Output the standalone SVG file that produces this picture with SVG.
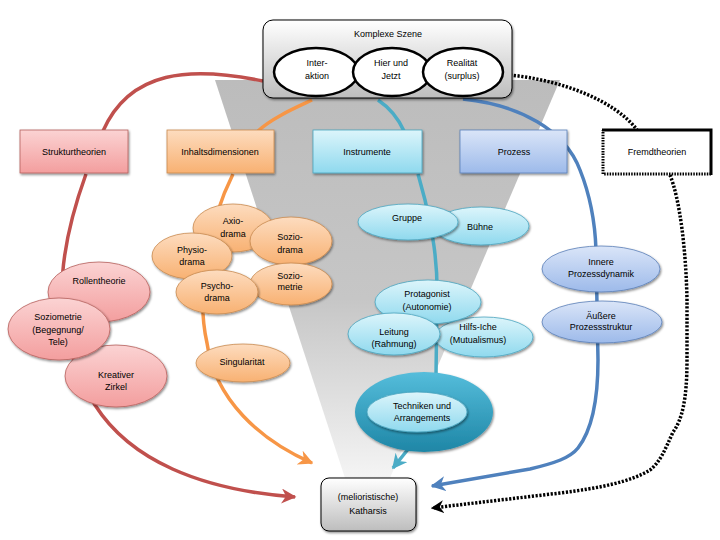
<svg xmlns="http://www.w3.org/2000/svg" width="720" height="540" viewBox="0 0 720 540">
<defs>
<linearGradient id="gFunnel" x1="0" y1="0" x2="0" y2="1"><stop offset="0" stop-color="#bcbcbc"/><stop offset="0.55" stop-color="#c6c6c6"/><stop offset="1" stop-color="#f4f4f4"/></linearGradient>
<linearGradient id="gGray" x1="0" y1="0" x2="0" y2="1"><stop offset="0" stop-color="#ffffff"/><stop offset="1" stop-color="#bdbdbd"/></linearGradient>
<linearGradient id="gPink" x1="0" y1="0" x2="0" y2="1"><stop offset="0" stop-color="#fbd3d3"/><stop offset="1" stop-color="#f39e9e"/></linearGradient>
<linearGradient id="gOrange" x1="0" y1="0" x2="0" y2="1"><stop offset="0" stop-color="#fddcbf"/><stop offset="1" stop-color="#f8b172"/></linearGradient>
<linearGradient id="gCyan" x1="0" y1="0" x2="0" y2="1"><stop offset="0" stop-color="#dcf5fb"/><stop offset="1" stop-color="#8fd9ee"/></linearGradient>
<linearGradient id="gBlue" x1="0" y1="0" x2="0" y2="1"><stop offset="0" stop-color="#dae5f8"/><stop offset="1" stop-color="#9dbaea"/></linearGradient>
<linearGradient id="gRing" x1="0" y1="0" x2="0" y2="1"><stop offset="0" stop-color="#55bddb"/><stop offset="1" stop-color="#1e86a6"/></linearGradient>
<filter id="sh" x="-20%" y="-20%" width="140%" height="150%"><feDropShadow dx="1" dy="1.5" stdDeviation="0.8" flood-color="#000" flood-opacity="0.45"/></filter>
<marker id="aRed" viewBox="0 0 10 10" refX="9" refY="5" markerWidth="15" markerHeight="15" markerUnits="userSpaceOnUse" orient="auto"><path d="M0,0 L10,5 L0,10 L3,5 z" fill="#c0504d"/></marker>
<marker id="aOrange" viewBox="0 0 10 10" refX="9" refY="5" markerWidth="15" markerHeight="15" markerUnits="userSpaceOnUse" orient="auto"><path d="M0,0 L10,5 L0,10 L3,5 z" fill="#f79646"/></marker>
<marker id="aTeal" viewBox="0 0 10 10" refX="9" refY="5" markerWidth="15" markerHeight="15" markerUnits="userSpaceOnUse" orient="auto"><path d="M0,0 L10,5 L0,10 L3,5 z" fill="#4bacc6"/></marker>
<marker id="aBlue" viewBox="0 0 10 10" refX="9" refY="5" markerWidth="15" markerHeight="15" markerUnits="userSpaceOnUse" orient="auto"><path d="M0,0 L10,5 L0,10 L3,5 z" fill="#4f81bd"/></marker>
<marker id="aBlack" viewBox="0 0 10 10" refX="9" refY="5" markerWidth="13" markerHeight="13" markerUnits="userSpaceOnUse" orient="auto"><path d="M0,0 L10,5 L0,10 L3,5 z" fill="#000"/></marker>
</defs>
<style>
text{font-family:"Liberation Sans",Arial,sans-serif;font-size:9px;fill:#000;text-anchor:middle}
.c{fill:none;stroke-width:3.5;stroke-linecap:butt}
.red{stroke:#c0504d}.org{stroke:#f79646}.teal{stroke:#4bacc6}.blue{stroke:#4f81bd}
.dot{stroke:#000;stroke-dasharray:2.2 1.6}
.pk{fill:url(#gPink);stroke:#b5605c;stroke-width:0.8;filter:url(#sh)}
.or{fill:url(#gOrange);stroke:#c98a4f;stroke-width:0.8;filter:url(#sh)}
.cy{fill:url(#gCyan);stroke:#4aa5bf;stroke-width:0.8;filter:url(#sh)}
.bl{fill:url(#gBlue);stroke:#5a7fb8;stroke-width:0.8;filter:url(#sh)}
.wh{fill:#fff;stroke:#000;stroke-width:2.5}
</style>
<rect width="720" height="540" fill="#fff"/>
<polygon id="funnel" points="215,80 560,80 390,478 345,478" fill="url(#gFunnel)"/>

<g id="connectors">
<path class="c red" d="M263,81 C190,66 130,70 103,131"/>
<path class="c red" d="M86,174 C55,260 50,330 95,405 C130,460 200,490 295,497" marker-end="url(#aRed)"/>
<path class="c org" d="M312,100 C295,108 272,118 258,131"/>
<path class="c org" d="M233,174 C210,220 195,290 207,343 C215,400 260,440 312,463" marker-end="url(#aOrange)"/>
<path class="c teal" d="M378,100 C390,108 398,118 404,131"/>
<path class="c teal" d="M418,174 L425,200 C432,230 438,260 437,300 L436,375"/>
<path class="c teal" d="M409,448 L393,468" marker-end="url(#aTeal)"/>
<path class="c blue" d="M463,99 C520,105 565,130 580,170 C590,195 595,220 596,250 L598,360 C598,400 592,430 578,448 C570,458 555,463 530,469 L432,486" marker-end="url(#aBlue)"/>
<path class="c dot" d="M510,75 C560,80 615,100 637,130"/>
<path class="c dot" d="M670,175 C680,200 686,250 687,300 L687,360 C687,400 682,420 673,432 C665,450 660,462 650,470 C630,482 600,488 560,493 L432,508" marker-end="url(#aBlack)"/>
</g>

<g id="komplexe-szene">
<rect x="263" y="20" width="249" height="78" rx="10" fill="url(#gGray)" stroke="#000" stroke-width="1" filter="url(#sh)"/>
<text x="388" y="37">Komplexe Szene</text>
</g>
<g id="interaktion"><ellipse cx="316" cy="72" rx="42" ry="24" class="wh"/><text x="317" y="66">Inter-</text><text x="317" y="79">aktion</text></g>
<g id="hier-und-jetzt"><ellipse cx="392" cy="72" rx="39" ry="24" class="wh"/><text x="391" y="66">Hier und</text><text x="391" y="79">Jetzt</text></g>
<g id="realitaet"><ellipse cx="463" cy="72" rx="40" ry="24" class="wh"/><text x="462" y="66">Realität</text><text x="462" y="79">(surplus)</text></g>

<g id="strukturtheorien"><rect x="20" y="130" width="108" height="43" fill="url(#gPink)" stroke="#b5605c" stroke-width="0.8" filter="url(#sh)"/><text x="74" y="155">Strukturtheorien</text></g>
<g id="inhaltsdimensionen"><rect x="167" y="130" width="107" height="43" fill="url(#gOrange)" stroke="#c98a4f" stroke-width="0.8" filter="url(#sh)"/><text x="220" y="155">Inhaltsdimensionen</text></g>
<g id="instrumente"><rect x="313" y="130" width="109" height="43" fill="url(#gCyan)" stroke="#4aa5bf" stroke-width="0.8" filter="url(#sh)"/><text x="367" y="155">Instrumente</text></g>
<g id="prozess"><rect x="460" y="130" width="107" height="43" fill="url(#gBlue)" stroke="#5a7fb8" stroke-width="0.8" filter="url(#sh)"/><text x="514" y="155">Prozess</text></g>
<g id="fremdtheorien">
<rect x="603" y="130" width="108" height="44" fill="#fff"/>
<path d="M711,174 L603,174 L603,130" fill="none" stroke="#000" stroke-width="3" stroke-dasharray="1.5 1.2"/>
<path d="M602,130 L711,130 L711,175" fill="none" stroke="#000" stroke-width="3"/>
<text x="657" y="155">Fremdtheorien</text>
</g>

<g id="rollentheorie"><ellipse cx="99" cy="292" rx="51" ry="30" class="pk"/><text x="99" y="284">Rollentheorie</text></g>
<g id="kreativer-zirkel"><ellipse cx="116" cy="376" rx="51" ry="31" class="pk"/><text x="116" y="378">Kreativer</text><text x="116" y="390">Zirkel</text></g>
<g id="soziometrie-begegnung"><ellipse cx="59" cy="329" rx="51" ry="31" class="pk"/><text x="58" y="320">Soziometrie</text><text x="58" y="333">(Begegnung/</text><text x="58" y="345">Tele)</text></g>

<g id="axiodrama"><ellipse cx="233" cy="228" rx="40" ry="24" class="or"/><text x="233" y="224">Axio-</text><text x="233" y="237">drama</text></g>
<g id="soziodrama"><ellipse cx="291" cy="241" rx="41" ry="24" class="or"/><text x="290" y="240">Sozio-</text><text x="290" y="253">drama</text></g>
<g id="physiodrama"><ellipse cx="192" cy="256" rx="40" ry="23" class="or"/><text x="192" y="253">Physio-</text><text x="192" y="265">drama</text></g>
<g id="soziometrie"><ellipse cx="291" cy="284" rx="41" ry="21" class="or"/><text x="290" y="279">Sozio-</text><text x="290" y="290">metrie</text></g>
<g id="psychodrama"><ellipse cx="217" cy="292" rx="41" ry="22" class="or"/><text x="217" y="289">Psycho-</text><text x="217" y="301">drama</text></g>
<g id="singularitaet"><ellipse cx="243" cy="363" rx="47" ry="19" class="or"/><text x="242" y="365">Singularität</text></g>

<g id="buehne"><ellipse cx="481" cy="226" rx="48" ry="19" class="cy"/><text x="480" y="230">Bühne</text></g>
<g id="gruppe"><ellipse cx="408" cy="222" rx="50" ry="18" class="cy"/><text x="407" y="221">Gruppe</text></g>
<g id="hilfs-iche"><ellipse cx="484" cy="337" rx="49" ry="20" class="cy"/><text x="478" y="330">Hilfs-Iche</text><text x="478" y="343">(Mutualismus)</text></g>
<g id="protagonist"><ellipse cx="428" cy="302" rx="53" ry="22" class="cy"/><text x="427" y="297">Protagonist</text><text x="427" y="310">(Autonomie)</text></g>
<g id="leitung"><ellipse cx="394" cy="334" rx="46" ry="21" class="cy"/><text x="394" y="335">Leitung</text><text x="394" y="347">(Rahmung)</text></g>
<g id="techniken">
<ellipse cx="424" cy="412" rx="69" ry="40" fill="url(#gRing)" filter="url(#sh)"/>
<ellipse cx="417" cy="412" rx="50" ry="20" class="cy"/>
<text x="422" y="409">Techniken und</text><text x="422" y="421">Arrangements</text>
</g>

<g id="innere-prozessdynamik"><ellipse cx="601" cy="269" rx="59" ry="23" class="bl"/><text x="601" y="265">Innere</text><text x="601" y="277">Prozessdynamik</text></g>
<g id="aeussere-prozessstruktur"><ellipse cx="602" cy="322" rx="60" ry="21" class="bl"/><text x="601" y="319">Äußere</text><text x="601" y="330">Prozessstruktur</text></g>

<g id="katharsis"><rect x="321" y="478" width="95" height="53" rx="8" fill="url(#gGray)" stroke="#000" stroke-width="1" filter="url(#sh)"/><text x="368" y="500">(melioristische)</text><text x="368" y="514">Katharsis</text></g>
</svg>
